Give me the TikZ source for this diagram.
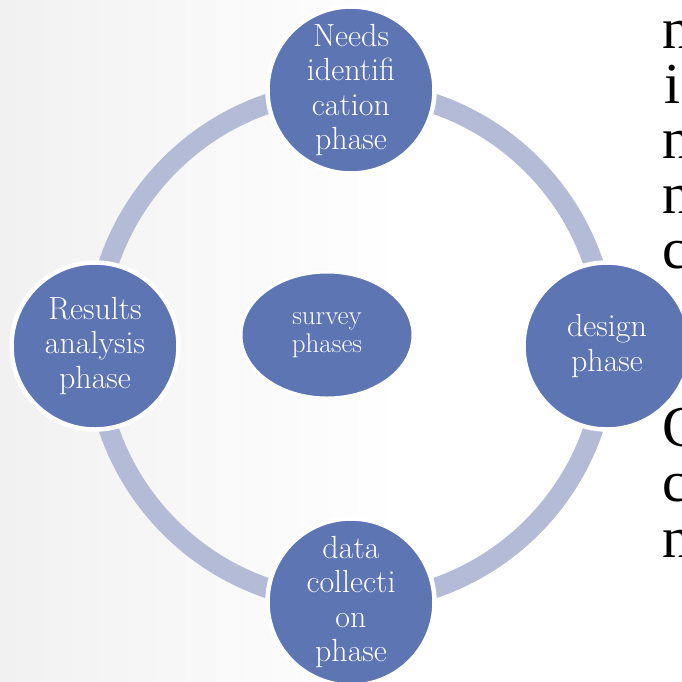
\documentclass[tikz,border=0pt]{standalone}
\usepackage{fontspec}
\usepackage{tikz}
\usetikzlibrary{positioning,backgrounds,shapes.geometric}
\newfontfamily\sidefont{Liberation Serif}
\definecolor{phaseblue}{RGB}{94,117,179}
\definecolor{ringblue}{RGB}{179,187,214}
\definecolor{bggray}{RGB}{241,241,241}

\begin{document}
\begin{tikzpicture}[x=1pt, y=1pt, node distance=256pt,
        phase/.style={circle, fill=phaseblue, draw=white, line width=4.5pt, minimum size=167pt, inner sep=0pt, align=center, text=white, font=\fontsize{32}{34.5}\selectfont},
        hub/.style={ellipse, fill=phaseblue, draw=white, line width=3pt, minimum width=172pt, minimum height=126pt, inner sep=0pt, align=center, text=white, font=\fontsize{27}{28}\selectfont},
        ringarc/.style={draw=ringblue, line width=20pt},
        cutletter/.style={anchor=base west, inner sep=0pt, font=\sidefont\fontsize{58}{58}\selectfont}]
        \useasboundingbox (0,0) rectangle (682,-681);
        \coordinate (ring) at (351,-346);
        % text running off the right edge
        \node[cutletter] (cut1) at (662,-48) {n};
        \node[cutletter] (cut2) at (664,-103) {i};
        \node[cutletter] (cut3) at (662,-158) {n};
        \node[cutletter] (cut4) at (662,-213) {n};
        \node[cutletter] (cut5) at (662,-268) {c};
        \node[cutletter] (cut6) at (662,-446) {C};
        \node[cutletter] (cut7) at (662,-501) {c};
        \node[cutletter] (cut8) at (662,-557) {n};
        \node[hub] (survey) at (327,-335) {survey\\phases};
        \node[phase, above of=ring] (needs) {Needs\\identifi\\cation\\phase};
        \node[phase, right of=ring] (design) {design\\phase};
        \node[phase, below of=ring] (data) {data\\collecti\\on\\phase};
        \node[phase, left of=ring] (results) {Results\\analysis\\phase};
        \begin{scope}[on background layer]
            \shade[left color=bggray, right color=white] (0,0) rectangle (400,-681);
            \fill[white] (400,0) rectangle (682,-681);
            \draw[ringarc] (needs.center) to[out=0, in=90] (design.center);
            \draw[ringarc] (design.center) to[out=-90, in=0] (data.center);
            \draw[ringarc] (data.center) to[out=180, in=-90] (results.center);
            \draw[ringarc] (results.center) to[out=90, in=180] (needs.center);
        \end{scope}
    \end{tikzpicture}
\end{document}
